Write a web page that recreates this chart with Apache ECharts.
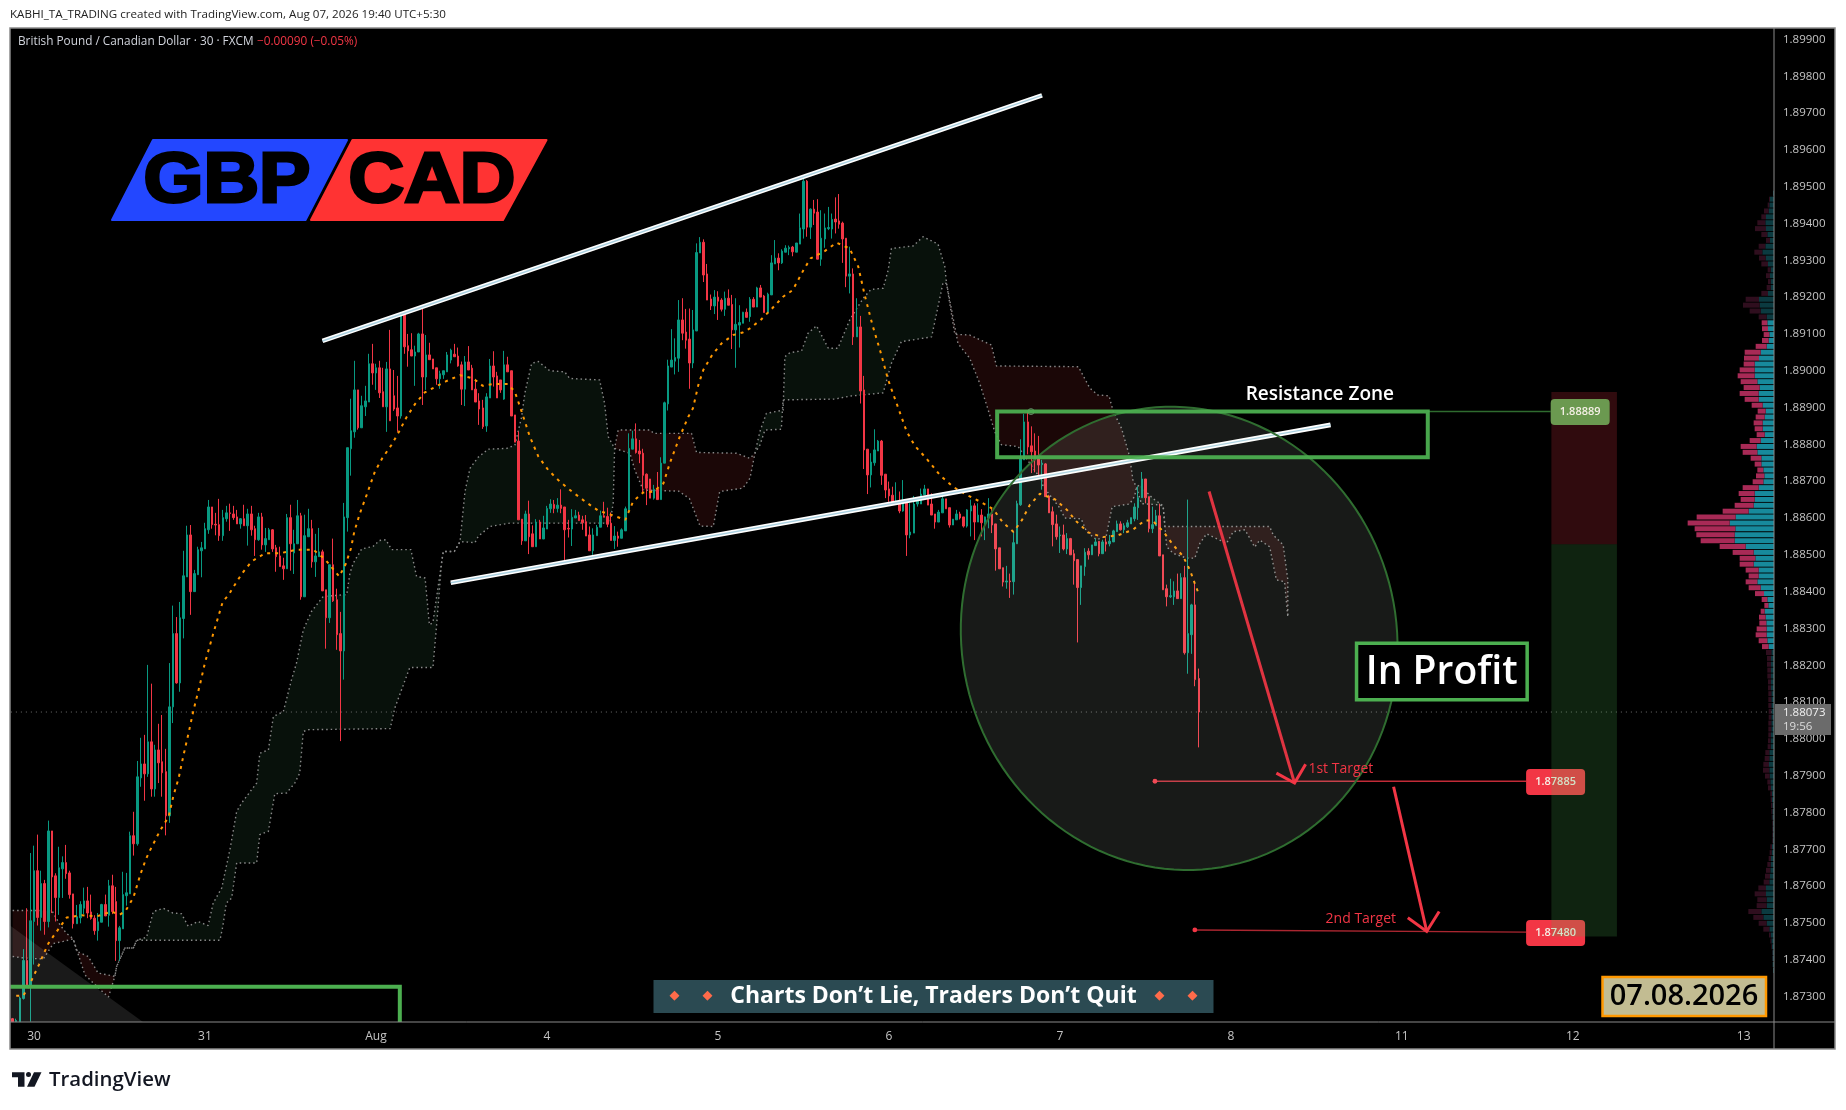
<!DOCTYPE html>
<html>
<head>
<meta charset="utf-8">
<title>GBPCAD</title>
<script src="https://cdn.jsdelivr.net/npm/echarts@6/dist/echarts.min.js"></script>
<style>
  html, body { margin: 0; padding: 0; background: #fff; }
  #chart { width: 1846px; height: 1110px; }
</style>
</head>
<body>
<div id="chart"></div>
<script>
// All prices below are in points above 1.80000, so 8889 means 1.88889
function price(p) { return 1.8 + p / 100000; }

var priceTicks = [1.899, 1.898, 1.897, 1.896, 1.895, 1.894, 1.893, 1.892, 1.891, 1.89, 1.889, 1.888, 1.887, 1.886,
    1.885, 1.884, 1.883, 1.882, 1.881, 1.88, 1.879, 1.878, 1.877, 1.876, 1.875, 1.874, 1.873];
var dayBars = [6, 54, 102, 150, 198, 246, 294, 342, 390, 438, 486];
var dayNames = ['30', '31', 'Aug', '4', '5', '6', '7', '8', '11', '12', '13'];

// 30 minute bars: open, close, low, high
var candles = [
[7240,7232,7232,7242],[7232,7235,7232,7240],[7232,7296,7232,7300],[7295,7398,7292,7429],[7398,7328,7325,7540],
[7328,7506,7232,7690],[7504,7642,7387,7710],[7642,7515,7493,7740],[7515,7607,7479,7642],[7607,7504,7468,7617],
[7504,7750,7488,7778],[7750,7625,7527,7750],[7628,7569,7504,7635],[7569,7650,7522,7707],[7647,7664,7568,7681],
[7664,7634,7620,7712],[7636,7577,7566,7642],[7579,7498,7485,7579],[7498,7517,7498,7549],[7514,7550,7499,7559],
[7540,7560,7524,7596],[7560,7527,7513,7598],[7530,7512,7509,7577],[7513,7479,7468,7521],[7479,7503,7452,7527],
[7502,7550,7502,7552],[7550,7519,7519,7577],[7521,7601,7490,7617],[7601,7531,7524,7631],[7558,7452,7397,7598],
[7452,7487,7397,7492],[7484,7577,7484,7639],[7574,7582,7547,7636],[7579,7737,7579,7748],[7737,7715,7683,7802],
[7715,7897,7710,7940],[7894,7932,7870,8003],[7932,7905,7832,8011],[7905,7992,7897,8201],[7992,7864,7843,8150],
[7864,7970,7843,7984],[7970,7935,7880,8041],[7938,7908,7843,8065],[7911,7791,7738,7973],[7791,8087,7772,8206],
[8087,8286,8043,8362],[8286,8152,8150,8331],[8152,8329,8128,8372],[8327,8443,8273,8511],[8440,8554,8440,8579],
[8554,8400,8337,8581],[8400,8449,8400,8459],[8446,8514,8446,8522],[8511,8519,8439,8535],[8516,8571,8516,8587],
[8568,8630,8557,8649],[8630,8582,8571,8630],[8583,8581,8553,8614],[8582,8552,8538,8652],[8552,8601,8538,8622],
[8598,8614,8590,8633],[8614,8612,8565,8639],[8611,8601,8595,8633],[8603,8584,8584,8622],[8584,8598,8571,8600],
[8598,8579,8579,8636],[8579,8611,8525,8625],[8611,8568,8552,8633],[8571,8541,8497,8579],[8541,8603,8538,8614],
[8603,8527,8514,8614],[8527,8544,8508,8573],[8541,8568,8541,8573],[8568,8516,8508,8570],[8519,8495,8454,8527],
[8497,8468,8468,8522],[8470,8462,8432,8492],[8462,8601,8462,8611],[8601,8530,8457,8636],[8505,8530,8448,8568],
[8530,8606,8530,8649],[8606,8386,8378,8614],[8386,8552,8386,8609],[8549,8571,8549,8625],[8571,8481,8465,8595],
[8481,8497,8440,8557],[8495,8508,8495,8573],[8508,8402,8402,8514],[8405,8329,8245,8405],[8329,8473,8315,8473],
[8473,8375,8372,8544],[8378,8283,8242,8408],[8286,8239,7994,8345],[8239,8603,8161,8641],[8601,8791,8563,8791],
[8788,8837,8715,8924],[8834,8948,8818,9027],[8948,8845,8840,8948],[8845,8905,8845,8932],[8902,8918,8877,8959],
[8915,9019,8915,9046],[9019,8994,8962,9073],[8994,9008,8948,9019],[9008,8940,8926,9027],[8943,8902,8902,9008],
[8902,9005,8834,9024],[9005,8864,8864,9111],[8932,8896,8891,9002],[8899,8877,8834,8986],[8877,9152,8870,9160],
[9152,9065,9046,9155],[9068,9054,9011,9100],[9057,9040,9040,9102],[9040,9051,8959,9068],[9051,9100,9051,9103],
[9100,8983,8907,9179],[8983,9043,8948,9097],[9043,9030,9030,9076],[9032,9005,9005,9032],[9008,8978,8962,9008],
[8978,8992,8951,9000],[8989,9000,8978,9000],[8997,9043,8997,9051],[9029,9056,9020,9060],[9045,9038,9038,9073],
[9040,9013,9011,9063],[9016,8950,8907,9025],[8950,9024,8904,9040],[9024,9002,9002,9067],[9007,8948,8948,9016],
[8950,8915,8915,8978],[8918,8896,8853,8939],[8899,8848,8842,8921],[8850,8929,8834,8939],[8926,9013,8926,9032],
[9013,8983,8957,9053],[8986,8926,8926,8997],[8975,8948,8940,8975],[8923,9016,8921,9054],[9016,8997,8997,9038],
[9000,8877,8877,9000],[8880,8806,8806,8880],[8809,8595,8595,8835],[8597,8538,8527,8597],[8538,8611,8538,8620],
[8611,8549,8502,8647],[8557,8522,8522,8580],[8522,8589,8522,8597],[8589,8543,8543,8595],[8543,8573,8543,8606],
[8570,8626,8570,8633],[8625,8638,8614,8651],[8637,8626,8613,8649],[8626,8635,8615,8654],[8635,8626,8613,8678],
[8630,8568,8484,8630],[8572,8570,8547,8595],[8570,8602,8524,8624],[8600,8606,8600,8622],[8608,8593,8593,8617],
[8595,8587,8568,8606],[8590,8551,8551,8608],[8554,8511,8511,8577],[8511,8554,8500,8572],[8552,8575,8552,8581],
[8575,8606,8575,8620],[8606,8602,8602,8644],[8604,8583,8575,8628],[8586,8539,8539,8615],[8539,8551,8516,8578],
[8551,8545,8522,8563],[8545,8568,8545,8572],[8565,8625,8565,8631],[8622,8789,8613,8830],[8787,8815,8787,8837],
[8815,8778,8775,8857],[8782,8774,8749,8812],[8776,8716,8667,8788],[8719,8681,8635,8721],[8706,8654,8654,8706],
[8654,8678,8650,8690],[8678,8650,8650,8725],[8650,8749,8650,8765],[8749,8913,8749,8916],[8910,9013,8892,9030],
[9010,9029,9010,9113],[9026,9036,8990,9088],[9034,9138,8997,9192],[9138,9102,9083,9197],[9105,9083,9060,9168],
[9086,9021,8951,9169],[9021,9111,9007,9165],[9108,9321,9108,9346],[9320,9349,9320,9363],[9349,9260,9241,9357],
[9263,9192,9192,9290],[9195,9176,9165,9207],[9176,9200,9154,9219],[9200,9189,9138,9216],[9192,9167,9161,9197],
[9167,9197,9149,9215],[9197,9178,9178,9221],[9180,9111,9059,9206],[9111,9126,9008,9197],[9124,9131,9063,9178],
[9129,9159,9129,9160],[9159,9145,9145,9169],[9147,9194,9133,9200],[9194,9173,9173,9200],[9173,9225,9173,9228],
[9225,9200,9200,9233],[9203,9158,9158,9206],[9158,9208,9158,9212],[9206,9293,9206,9314],[9290,9306,9290,9355],
[9306,9293,9273,9319],[9293,9325,9290,9330],[9322,9333,9322,9341],[9331,9335,9314,9340],[9336,9323,9311,9339],
[9322,9347,9322,9347],[9344,9388,9344,9427],[9385,9515,9359,9529],[9515,9390,9364,9518],[9390,9439,9358,9441],
[9439,9428,9396,9464],[9431,9303,9303,9466],[9303,9360,9285,9436],[9358,9388,9334,9427],[9386,9389,9382,9445],
[9385,9411,9359,9427],[9412,9404,9373,9471],[9407,9398,9386,9480],[9401,9358,9293,9405],[9360,9257,9227,9360],
[9257,9263,9210,9337],[9263,9092,9070,9278],[9092,9119,9092,9197],[9119,8945,8911,9149],[8948,8785,8733,8986],
[8787,8717,8665,8787],[8717,8752,8683,8776],[8750,8785,8742,8841],[8782,8809,8782,8812],[8809,8716,8690,8812],
[8719,8676,8654,8719],[8679,8660,8644,8699],[8662,8638,8638,8685],[8638,8646,8638,8697],[8646,8619,8613,8672],
[8619,8649,8617,8703],[8649,8554,8497,8649],[8554,8562,8545,8640],[8559,8638,8559,8660],[8638,8646,8631,8654],
[8638,8665,8638,8680],[8663,8679,8663,8690],[8679,8635,8635,8679],[8638,8608,8608,8667],[8611,8589,8571,8611],
[8589,8616,8589,8622],[8614,8652,8614,8670],[8652,8625,8625,8652],[8628,8581,8574,8628],[8581,8597,8581,8597],
[8595,8611,8595,8622],[8611,8600,8596,8617],[8603,8578,8574,8603],[8578,8622,8574,8624],[8619,8633,8550,8650],
[8633,8589,8540,8640],[8589,8608,8589,8640],[8608,8587,8550,8624],[8587,8603,8540,8604],[8600,8611,8572,8654],
[8611,8581,8559,8629],[8584,8516,8457,8584],[8519,8462,8462,8519],[8465,8426,8414,8465],[8426,8429,8408,8470],
[8429,8427,8383,8449],[8427,8533,8392,8563],[8530,8639,8530,8647],[8636,8761,8633,8814],[8758,8861,8758,8883],
[8861,8793,8773,8889],[8796,8780,8722,8849],[8782,8758,8724,8830],[8761,8744,8717,8823],[8745,8749,8677,8758],
[8747,8658,8658,8749],[8660,8614,8614,8663],[8617,8582,8523,8631],[8584,8549,8541,8609],[8552,8554,8505,8577],
[8554,8516,8512,8582],[8516,8544,8502,8559],[8544,8500,8500,8546],[8503,8484,8419,8514],[8487,8411,8262,8487],
[8411,8470,8364,8470],[8468,8507,8443,8518],[8510,8500,8487,8518],[8500,8527,8500,8527],[8525,8535,8525,8545],
[8537,8503,8496,8537],[8503,8535,8503,8541],[8535,8529,8509,8545],[8530,8537,8523,8554],[8535,8565,8535,8568],
[8563,8584,8563,8593],[8584,8568,8566,8591],[8568,8579,8559,8586],[8576,8587,8573,8595],[8584,8601,8584,8601],
[8598,8630,8591,8640],[8628,8655,8595,8686],[8655,8706,8655,8725],[8706,8655,8640,8706],[8658,8571,8561,8658],
[8571,8582,8559,8631],[8579,8606,8579,8622],[8606,8497,8497,8639],[8500,8405,8405,8500],[8408,8386,8360,8419],
[8386,8389,8383,8435],[8386,8402,8364,8428],[8402,8381,8381,8449],[8381,8438,8381,8450],[8438,8234,8229,8470],
[8234,8286,8177,8650],[8283,8364,8231,8367],[8364,8161,8143,8428],[8164,8073,7977,8191]
];

// Moving average read as [bar, price]
var maLine = [
[1,7302],[3,7302],[5.4,7346],[7.4,7387],[10,7444],[12.6,7480],[15.2,7515],[19.4,7521],[23.6,7518],[27.8,7531],[30,7522],
[31.7,7533],[33.9,7569],[35.9,7633],[37.4,7673],[38.4,7694],[41.4,7751],[43.8,7789],[45.2,7848],[46.6,7893],[48,7957],
[49.4,8016],[50.8,8079],[52.5,8144],[54,8207],[56.5,8292],[59,8373],[60.7,8392],[61.8,8410],[64.3,8448],[67.1,8482],
[70.8,8504],[75,8504],[79.7,8514],[84.4,8514],[87.7,8488],[91.7,8441],[93.6,8477],[95,8518],[95.9,8562],[97.5,8613],
[99.4,8663],[101.7,8726],[103.8,8763],[106.4,8799],[108.5,8835],[110.6,8874],[113,8910],[115.7,8941],[119.2,8959],
[121.6,8971],[125.6,8988],[129.3,8979],[132,8959],[135,8964],[139,8964],[141,8943],[142.9,8889],[145.2,8821],[147.6,8767],
[150.4,8730],[153.6,8699],[157,8672],[160.7,8645],[164.4,8620],[168.6,8607],[172,8595],[174.2,8645],[177,8669],[180,8672],
[182.7,8694],[184.5,8749],[187.3,8821],[189.7,8875],[191,8898],[192.5,8961],[193.9,9002],[196.2,9040],[199,9074],[202.3,9097],
[205,9104],[207,9115],[210,9138],[213,9167],[216.3,9201],[219,9219],[222,9273],[224,9305],[228,9325],[231.3,9348],[235,9332],
[237.4,9283],[239.2,9206],[241.4,9124],[243.9,9043],[245.8,8975],[248,8916],[251,8835],[253.3,8796],[256.5,8762],[260.3,8717],
[264,8685],[267.8,8663],[271.5,8645],[275.3,8624],[278,8588],[281,8562],[283.4,8595],[285.6,8636],[288.4,8666],[292.6,8651],
[296,8622],[298.6,8591],[302,8561],[306,8548],[310.3,8553],[314.5,8568],[317.8,8593],[320,8593],[323,8564],[325.8,8527],
[328.6,8496],[330.5,8459],[332,8419],[332.9,8396]
];

// Cloud edges read as [bar, price]
var spanA = [
[0,7409],[3,7405],[8.6,7402],[11.4,7444],[14.2,7450],[17,7457],[20.3,7359],[23.6,7328],[26.9,7299],[28.7,7355],[29.2,7382],
[31.5,7432],[33.9,7432],[34.8,7453],[37.6,7461],[39.5,7531],[42.3,7540],[45,7527],[47.4,7525],[49.3,7491],[52,7504],[54.9,7493],
[56.3,7554],[58.7,7595],[61,7699],[62.9,7803],[64.3,7826],[68.5,7880],[69.4,7961],[71.8,7970],[73.2,8061],[76,8074],[78.3,8161],
[79.7,8206],[81.6,8296],[83.9,8346],[87.2,8387],[93.8,8392],[94.7,8450],[95.6,8477],[98,8516],[101.2,8523],[103,8539],[104.8,8541],
[106.4,8514],[111.8,8514],[113.4,8441],[115.8,8437],[117,8310],[118,8316],[120.4,8477],[120.9,8509],[124,8509],[125.6,8536],
[127,8672],[128.4,8735],[130.7,8765],[133.5,8787],[138.7,8789],[141,8798],[142.9,8875],[143.8,8939],[145.7,9020],[147.6,9025],
[150.8,9000],[155,8997],[156.4,8979],[164.8,8975],[166.2,8911],[167.2,8821],[169,8789],[173.3,8776],[174.7,8730],[177,8676],
[182.7,8674],[187,8673],[190,8653],[193,8578],[196.7,8577],[198.5,8672],[205,8681],[207,8708],[208.4,8776],[209.8,8835],[211.6,8884],
[216.3,8893],[216.8,9038],[218.2,9049],[221.5,9054],[223.3,9102],[225.7,9122],[229,9061],[231.7,9061],[235,9138],[238.8,9197],
[241,9221],[244.4,9224],[245.8,9273],[246.7,9332],[252.8,9339],[255.6,9364],[259.8,9344],[261.7,9283],[262.2,9237],[265.4,9074],
[268.7,9034],[271.5,8966],[273.9,8893],[275.7,8835],[277.6,8799],[282.3,8794],[283.2,8781],[288.8,8704],[289.3,8686],[294,8627],
[295.4,8600],[300,8598],[301.5,8563],[304.3,8541],[307,8550],[308.7,8631],[313.6,8638],[315,8659],[315.5,8684],[316.4,8690],
[320,8654],[323,8633],[323.5,8577],[324,8522],[325.8,8504],[329.6,8491],[331.9,8491],[333.3,8531],[335.2,8557],[340.8,8531],
[342.7,8563],[346,8568],[348.7,8521],[350.1,8540],[352.9,8522],[354.8,8432],[357.1,8427],[358,8332]
];
var spanB = [
[0,7534],[11,7534],[13.3,7495],[15,7473],[17,7457],[18,7423],[21.2,7409],[24,7364],[28.7,7355],[29.2,7382],[31.5,7432],[33.9,7432],
[34.8,7453],[58.2,7453],[59,7491],[60,7554],[61.5,7568],[62.9,7663],[68.5,7663],[69.4,7740],[71.8,7749],[73.6,7851],[76.9,7853],
[79.2,7880],[80.6,7907],[81.6,8020],[83,8025],[106,8028],[107.3,8084],[111.5,8194],[118,8194],[119,8306],[120.4,8477],[120.9,8509],
[124,8509],[125.6,8536],[129.8,8533],[130.7,8550],[134,8577],[139.6,8586],[167.7,8586],[168.6,8640],[169,8789],[170,8839],[179,8839],
[180,8830],[190.6,8830],[192,8778],[203.2,8776],[207,8762],[208.4,8776],[209.8,8798],[211.2,8839],[215.8,8841],[216.3,8921],[230.8,8923],
[235,8931],[244.4,8940],[246.7,9020],[249.5,9079],[258,9092],[259.4,9156],[261.2,9239],[262.2,9237],[264.5,9099],[268.7,9097],
[274.8,9070],[276.2,9013],[299.2,9011],[302.4,8953],[304.7,8934],[307.8,8932],[309,8889],[311.3,8844],[313.6,8767],[314.5,8704],
[315.5,8684],[316.9,8639],[321.6,8636],[323,8633],[323.5,8577],[352.9,8577],[353.9,8554],[356.7,8527],[358,8432],[358,8332]
];
// Stretches between crossings, last value is 1 for a green stretch
var cloudLobes = [[0,17,0],[17,28.7,0],[28.7,169,1],[169,208.4,0],[208.4,262.2,1],[262.2,315.5,0],[315.5,323.5,1],[323.5,358,0]];

// Volume profile, rows from the top
var profileBuy = [3,12,14,16,24,26,24,20,12,26,35,25,18,10,12,10,10,18,45,43,40,22,
    20,18,14,16,22,40,45,58,58,58,50,43,46,46,34,25,28,34,34,28,40,52,50,38,38,32,29,32,46,58,58,61,76,115,133,116,118,118,85,61,56,61,46,46,50,40,30,20,17,28,25,23,22,22,20,16,
    8,9,9,9,9,
    9,9,8,8,8,8,8,8,8,9,10,10,14,14,15,14,13,11,9,6,6,5,5,5,4,4,4,4,6,7,9,10,11,12,14,24,24,22,22,38,32,22,14,10,8,6,5,5,4,3];
var profileSell = [0,3,5,14,14,24,33,18,12,20,24,20,20,9,12,8,12,20,40,50,33,24,
    17,18,17,20,33,48,45,33,45,51,50,48,57,42,33,24,27,27,24,24,33,48,44,32,20,18,25,32,48,48,42,57,78,117,126,122,115,102,78,63,47,42,39,30,35,36,27,17,12,12,20,21,30,33,26,20,
    16,12,12,11,11,
    9,9,9,9,9,8,8,9,9,8,8,9,12,14,17,19,14,9,9,5,4,4,3,2,2,2,2,2,5,6,7,10,13,15,17,23,34,28,30,39,30,24,18,5,3,2,1,1,0,0];
var valueAreaFirst = 22, valueAreaLast = 77;

// Drawn tools, [bar, price]
var upperTrend = [[87, 9081], [289, 9748]];
var lowerTrend = [[123, 8424], [370, 8853]];
var zoneBox = [[276.4, 8889], [397.3, 8765]];
var zoneLine = [[397.3, 8889], [431.8, 8889]];
var stopBox = [[432, 8942], [450.4, 8529]];
var profitBox = [[432, 8529], [450.4, 7463]];
var firstTarget = [[320.7, 7885], [424.9, 7885]];
var secondTarget = [[331.9, 7481], [424.9, 7475]];
var arrowOne = [[335.9, 8672], [359.9, 7880]];
var arrowOneHead = [[354.8, 7907], [359.9, 7880], [363, 7931]];
var arrowTwo = [[387.7, 7870], [397, 7477]];
var arrowTwoHead = [[391.7, 7514], [397, 7477], [400.5, 7531]];
var cornerTriangle = [[-1, 7495], [36.6, 7231], [-1, 7231]];
var cornerBox = [[-1, 7327], [108.7, 7327], [108.7, 7100]];
var ellipseCentre = [327.5, 8273], ellipseBars = 61.3, ellipsePoints = 629, ellipseLeanBars = 1.2, ellipseLeanPoints = 11;
var inProfitBox = [[377.3, 8260], [425.2, 8106]];

var barLabels = [];
for (var i = 0; i < 495; i++) barLabels.push('');
dayBars.forEach(function (b, n) { barLabels[b] = dayNames[n]; });

var profileRows = profileBuy.map(function (v, n) { return n; });
var rowHeight = 5.887;

function toPairs(list) {
    return list.map(function (d) { return [d[0], price(d[1])]; });
}

var uiFont = '"Open Sans", sans-serif';

function drawCloud(params, api) {
    var lobe = cloudLobes[params.dataIndex];
    var top = spanA.filter(function (d) { return d[0] >= lobe[0] && d[0] <= lobe[1]; });
    var bottom = spanB.filter(function (d) { return d[0] >= lobe[0] && d[0] <= lobe[1]; }).reverse();
    var points = top.concat(bottom).map(function (d) { return api.coord([d[0], price(d[1])]); });
    return { type: 'polygon', shape: { points: points }, style: { fill: lobe[2] ? '#08110b' : '#1b0707' } };
}

// Everything drawn by hand on the TradingView chart
function drawTools(params, api) {
    function at(d) { return api.coord([d[0], price(d[1])]); }
    function line(list, color, width, opacity) {
        return { type: 'polyline', shape: { points: list.map(at) },
            style: { stroke: color, lineWidth: width, fill: null, opacity: opacity === undefined ? 1 : opacity, lineCap: 'butt', lineJoin: 'miter' } };
    }
    function box(pair, fill, stroke, width) {
        var a = at(pair[0]), b = at(pair[1]);
        return { type: 'rect', shape: { x: a[0], y: a[1], width: b[0] - a[0], height: b[1] - a[1] },
            style: { fill: fill, stroke: stroke || null, lineWidth: width || 0 } };
    }
    function tag(d, w, h, fill, label) {
        var a = at(d);
        return [
            { type: 'rect', shape: { x: a[0], y: a[1] - h / 2, width: w, height: h, r: 4 }, style: { fill: fill } },
            { type: 'text', style: { x: a[0] + w / 2, y: a[1], text: label, fill: '#f5f0e6', font: '600 11px ' + uiFont, align: 'center', verticalAlign: 'middle' } }
        ];
    }
    function words(d, text, color, font) {
        var a = at(d);
        return { type: 'text', style: { x: a[0], y: a[1], text: text, fill: color, font: font, align: 'center', verticalAlign: 'middle' } };
    }
    function dot(d, r, fill, stroke) {
        var a = at(d);
        return { type: 'circle', shape: { cx: a[0], cy: a[1], r: r }, style: { fill: fill, stroke: stroke || null, lineWidth: 1 } };
    }
    var ring = [];
    for (var n = 0; n < 144; n++) {
        var t = n / 144 * Math.PI * 2;
        ring.push(at([ellipseCentre[0] + ellipseBars * Math.cos(t) - ellipseLeanBars * Math.sin(t),
            ellipseCentre[1] + ellipsePoints * Math.sin(t) - ellipseLeanPoints * Math.cos(t)]));
    }
    var red = '#f23645';
    var parts = [
        { type: 'polygon', shape: { points: cornerTriangle.map(at) }, style: { fill: 'rgba(255,255,255,0.1)' } },
        line(cornerBox, '#4caf50', 4),
        line(upperTrend, '#ffffff', 4.6), line(upperTrend, '#a9d0e0', 1.5),
        line(lowerTrend, '#ffffff', 4.6), line(lowerTrend, '#a9d0e0', 1.5),
        line(firstTarget, red, 1.4, 0.8), line(secondTarget, red, 1.4, 0.7),
        dot(firstTarget[0], 2.4, red), dot(secondTarget[0], 2.4, red),
        line(zoneLine, '#2f6b2f', 1.5)
    ];
    parts = parts.concat(tag([firstTarget[1][0], 7883], 59, 26, red, '1.87885'));
    parts = parts.concat(tag([secondTarget[1][0], 7473], 59, 26, red, '1.87480'));
    parts.push(box(stopBox, 'rgba(242,54,69,0.2)'));
    parts.push(box(profitBox, 'rgba(76,175,80,0.2)'));
    parts = parts.concat(tag([zoneLine[1][0], 8888], 59, 26, '#6b9950', '1.88889'));
    parts.push({ type: 'polygon', shape: { points: ring }, style: { fill: 'rgba(240,255,235,0.1)', stroke: '#2f6d30', lineWidth: 2 } });
    parts.push(dot([285.9, 8889], 3, 'rgba(120,120,120,0.3)', '#5f7f5f'));
    parts.push(box(zoneBox, null, 'rgba(76,175,80,0.95)', 4));
    parts.push(box(inProfitBox, '#000000', '#4caf50', 3.5));
    parts.push(words([401.2, 8178], 'In Profit', '#ffffff', '600 39px ' + uiFont));
    parts.push(words([367, 8934], 'Resistance Zone', '#ffffff', '600 19px ' + uiFont));
    parts.push(words([372.9, 7918], '1st Target', red, '14px ' + uiFont));
    parts.push(words([378.5, 7510], '2nd Target', red, '14px ' + uiFont));
    parts.push(line(arrowOne, red, 3, 0.92), line(arrowOneHead, red, 3));
    parts.push(line(arrowTwo, red, 3), line(arrowTwoHead, red, 3));
    return { type: 'group', children: parts };
}

function pageText(x, y, text, fill, font, align) {
    return { type: 'text', z: 60, x: x, y: y, style: { text: text, fill: fill, font: font, align: align || 'left', verticalAlign: 'middle' } };
}

var frame = [
    { type: 'rect', z: -1, shape: { x: 10, y: 28, width: 1825, height: 1021 }, style: { fill: '#000' } },
    { type: 'rect', z: 40, shape: { x: 10, y: 28, width: 1825, height: 1021 }, style: { fill: null, stroke: '#8a8a8a', lineWidth: 1.5 } },
    { type: 'line', z: 40, shape: { x1: 10, y1: 1022, x2: 1835, y2: 1022 }, style: { stroke: '#8a8a8a', lineWidth: 1 } },
    { type: 'line', z: 40, shape: { x1: 1774, y1: 28, x2: 1774, y2: 1049 }, style: { stroke: '#8a8a8a', lineWidth: 1 } }
];

var logo = [
    { type: 'polygon', z: 60, shape: { points: [[153, 140], [347, 140], [305.5, 220], [112, 220]] }, style: { fill: '#2347ff', stroke: '#2347ff', lineWidth: 2, lineJoin: 'round' } },
    { type: 'polygon', z: 60, shape: { points: [[352.5, 140], [546.5, 140], [503, 220], [311, 220]] }, style: { fill: '#ff3333', stroke: '#ff3333', lineWidth: 2, lineJoin: 'round' } },
    { type: 'text', z: 61, x: 227, y: 183, scaleX: 1.1,
        style: { text: 'GBP', fill: '#000', stroke: '#000', lineWidth: 3, font: 'bold 70px "Liberation Sans", sans-serif', align: 'center', verticalAlign: 'middle' } },
    { type: 'text', z: 61, x: 432, y: 183, scaleX: 1.1,
        style: { text: 'CAD', fill: '#000', stroke: '#000', lineWidth: 3, font: 'bold 70px "Liberation Sans", sans-serif', align: 'center', verticalAlign: 'middle' } }
];

var banner = [
    { type: 'rect', z: 60, shape: { x: 653.5, y: 980, width: 560, height: 33 }, style: { fill: '#2b4a52' } },
    pageText(674.6, 996, '◆', '#ff6b4a', '13px "DejaVu Sans"', 'center'),
    pageText(707.5, 996, '◆', '#ff6b4a', '13px "DejaVu Sans"', 'center'),
    pageText(933.5, 996, 'Charts Don’t Lie, Traders Don’t Quit', '#ffffff', '700 23px ' + uiFont, 'center'),
    pageText(1159.6, 996, '◆', '#ff6b4a', '13px "DejaVu Sans"', 'center'),
    pageText(1192.6, 996, '◆', '#ff6b4a', '13px "DejaVu Sans"', 'center')
];

var dateBox = [
    { type: 'rect', z: 60, shape: { x: 1602.5, y: 977, width: 163.5, height: 39 }, style: { fill: '#c2bc92', stroke: '#ff9800', lineWidth: 2.5 } },
    pageText(1684, 997, '07.08.2026', '#000000', '600 29px ' + uiFont, 'center')
];

var lastPriceTag = [
    { type: 'rect', z: 60, shape: { x: 1775, y: 704, width: 56, height: 31 }, style: { fill: '#6b6b6b' } },
    pageText(1783, 712.5, '1.88073', '#f0f0f0', '11.5px ' + uiFont),
    pageText(1783, 727, '19:56', '#dddddd', '11.5px ' + uiFont)
];

var brand = [
    { type: 'polygon', z: 60, shape: { points: [[12, 1072.3], [24.5, 1072.3], [24.5, 1086.7], [18, 1086.7], [18, 1077.3], [12, 1077.3]] }, style: { fill: '#131722' } },
    { type: 'circle', z: 60, shape: { cx: 28.5, cy: 1074.6, r: 2.5 }, style: { fill: '#131722' } },
    { type: 'polygon', z: 60, shape: { points: [[34, 1072.3], [41.5, 1072.3], [34.5, 1086.7], [27, 1086.7]] }, style: { fill: '#131722' } },
    pageText(49, 1080, 'TradingView', '#131722', '600 20.4px ' + uiFont)
];

var header = [
    pageText(10, 15, 'KABHI_TA_TRADING created with TradingView.com, Aug 07, 2026 19:40 UTC+5:30', '#222222', '11.6px ' + uiFont),
    pageText(18, 42, 'British Pound / Canadian Dollar · 30 · FXCM', '#d1d4dc', '11.8px ' + uiFont),
    pageText(257, 42, '−0.00090 (−0.05%)', '#f23645', '11.8px ' + uiFont)
];

var chart = echarts.init(document.getElementById('chart'), null, { renderer: 'canvas' });

chart.setOption({
    animation: false,
    backgroundColor: '#ffffff',
    grid: [
        { left: 10.86, right: 72, top: 28, bottom: 88 },
        { left: 1434, right: 72, top: 190.35, height: rowHeight * profileRows.length }
    ],
    xAxis: [
        { type: 'category', gridIndex: 0, data: barLabels, axisLine: { show: false }, axisTick: { show: false }, splitLine: { show: false },
          axisLabel: { interval: 0, margin: 9, color: '#c4c4c4', fontSize: 12, fontFamily: uiFont } },
        { type: 'value', gridIndex: 0, min: -0.5, max: 494.5, show: false, splitLine: { show: false } },
        { type: 'value', gridIndex: 1, inverse: true, min: 0, max: 1020, show: false, splitLine: { show: false } }
    ],
    yAxis: [
        { type: 'value', gridIndex: 0, position: 'right', min: 1.87231, max: 1.89931, scale: true,
          axisLine: { show: false }, axisTick: { show: false }, splitLine: { show: false },
          axisLabel: { customValues: priceTicks, margin: 9, color: '#c4c4c4', fontSize: 11.5, fontFamily: uiFont, padding: [2, 0, 0, 0],
                       formatter: function (v) { return v.toFixed(5); } } },
        { type: 'category', gridIndex: 1, inverse: true, data: profileRows, show: false }
    ],
    graphic: { elements: frame.concat(logo, banner, dateBox, lastPriceTag, brand, header) },
    series: [
        { type: 'custom', name: 'cloud', xAxisIndex: 1, yAxisIndex: 0, z: 2, silent: true, renderItem: drawCloud,
          data: cloudLobes.map(function (l) { return [l[0], price(8000)]; }), encode: { x: 0, y: 1 } },
        { type: 'line', name: 'spanA', xAxisIndex: 1, yAxisIndex: 0, z: 3, silent: true, showSymbol: false,
          lineStyle: { color: '#8a8a8a', width: 1.4, type: [1.5, 3] }, data: toPairs(spanA) },
        { type: 'line', name: 'spanB', xAxisIndex: 1, yAxisIndex: 0, z: 3, silent: true, showSymbol: false,
          lineStyle: { color: '#8a8a8a', width: 1.4, type: [1.5, 3] }, data: toPairs(spanB) },
        { type: 'line', name: 'last', xAxisIndex: 1, yAxisIndex: 0, z: 3, silent: true, showSymbol: false,
          lineStyle: { color: '#6f6f6f', width: 1, type: [1, 4] }, data: toPairs([[-0.5, 8073], [494.5, 8073]]) },
        { type: 'candlestick', name: 'GBPCAD', xAxisIndex: 0, yAxisIndex: 0, z: 4, silent: true, barWidth: 2,
          progressive: 0, large: false,
          itemStyle: { color: '#089981', color0: '#f23645', borderColor: '#089981', borderColor0: '#f23645', borderWidth: 1 },
          data: candles.map(function (c) { return [price(c[0]), price(c[1]), price(c[2]), price(c[3])]; }) },
        { type: 'line', name: 'MA', xAxisIndex: 1, yAxisIndex: 0, z: 5, silent: true, showSymbol: false,
          lineStyle: { color: '#ff9800', width: 2, type: [3, 5] }, data: toPairs(maLine) },
        { type: 'custom', name: 'tools', xAxisIndex: 1, yAxisIndex: 0, z: 6, silent: true, clip: true, renderItem: drawTools,
          data: [[0, price(8000)]], encode: { x: 0, y: 1 } },
        { type: 'bar', name: 'buy', xAxisIndex: 2, yAxisIndex: 1, stack: 'profile', z: 3, silent: true, barWidth: 5,
          itemStyle: { color: function (p) { return p.dataIndex >= valueAreaFirst && p.dataIndex <= valueAreaLast ? '#178a9c' : '#0b3a40'; } },
          data: profileBuy },
        { type: 'bar', name: 'sell', xAxisIndex: 2, yAxisIndex: 1, stack: 'profile', z: 3, silent: true, barWidth: 5,
          itemStyle: { color: function (p) { return p.dataIndex >= valueAreaFirst && p.dataIndex <= valueAreaLast ? '#a82a56' : '#2f0e1e'; } },
          data: profileSell }
    ]
});
</script>
</body>
</html>
